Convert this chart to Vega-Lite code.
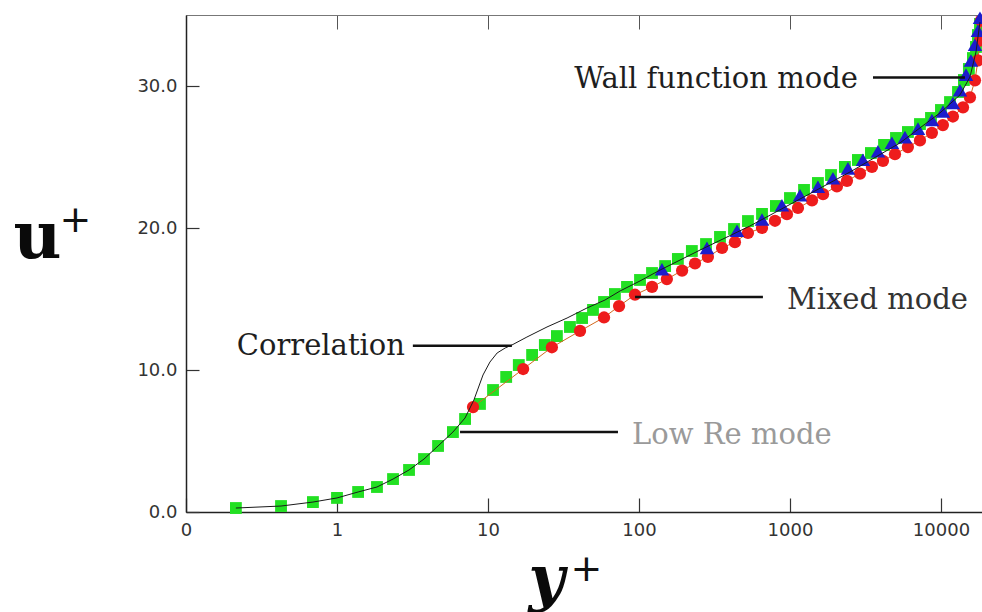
{
  "$schema": "https://vega.github.io/schema/vega-lite/v6.json",
  "width": 796,
  "height": 497,
  "autosize": {"type": "none"},
  "padding": {"left": 186, "top": 15, "right": 0, "bottom": 100},
  "background": "white",
  "config": {"view": {"stroke": null}, "axis": {"grid": false}},
  "datasets": {
    "pts": [
      {"s": "Low Re mode", "yp": 0.214, "up": 0.28},
      {"s": "Low Re mode", "yp": 0.426, "up": 0.42},
      {"s": "Low Re mode", "yp": 0.693, "up": 0.70},
      {"s": "Low Re mode", "yp": 1.0, "up": 0.99},
      {"s": "Low Re mode", "yp": 1.38, "up": 1.41},
      {"s": "Low Re mode", "yp": 1.84, "up": 1.76},
      {"s": "Low Re mode", "yp": 2.35, "up": 2.32},
      {"s": "Low Re mode", "yp": 3.0, "up": 2.96},
      {"s": "Low Re mode", "yp": 3.77, "up": 3.73},
      {"s": "Low Re mode", "yp": 4.67, "up": 4.65},
      {"s": "Low Re mode", "yp": 5.86, "up": 5.63},
      {"s": "Low Re mode", "yp": 7.05, "up": 6.55},
      {"s": "Low Re mode", "yp": 8.85, "up": 7.61},
      {"s": "Low Re mode", "yp": 10.8, "up": 8.59},
      {"s": "Low Re mode", "yp": 13.2, "up": 9.51},
      {"s": "Low Re mode", "yp": 16.0, "up": 10.35},
      {"s": "Low Re mode", "yp": 19.6, "up": 11.06},
      {"s": "Low Re mode", "yp": 23.8, "up": 11.76},
      {"s": "Low Re mode", "yp": 28.6, "up": 12.39},
      {"s": "Low Re mode", "yp": 34.9, "up": 13.03},
      {"s": "Low Re mode", "yp": 42.0, "up": 13.66},
      {"s": "Low Re mode", "yp": 49.6, "up": 14.23},
      {"s": "Low Re mode", "yp": 58.7, "up": 14.79},
      {"s": "Low Re mode", "yp": 69.3, "up": 15.35},
      {"s": "Low Re mode", "yp": 83.3, "up": 15.85},
      {"s": "Low Re mode", "yp": 101.6, "up": 16.34},
      {"s": "Low Re mode", "yp": 122, "up": 16.83},
      {"s": "Low Re mode", "yp": 149, "up": 17.32},
      {"s": "Low Re mode", "yp": 181, "up": 17.82},
      {"s": "Low Re mode", "yp": 224, "up": 18.38},
      {"s": "Low Re mode", "yp": 278, "up": 18.87},
      {"s": "Low Re mode", "yp": 344, "up": 19.37},
      {"s": "Low Re mode", "yp": 426, "up": 19.93},
      {"s": "Low Re mode", "yp": 527, "up": 20.49},
      {"s": "Low Re mode", "yp": 653, "up": 20.99},
      {"s": "Low Re mode", "yp": 807, "up": 21.55},
      {"s": "Low Re mode", "yp": 1000, "up": 22.11},
      {"s": "Low Re mode", "yp": 1239, "up": 22.68},
      {"s": "Low Re mode", "yp": 1532, "up": 23.17},
      {"s": "Low Re mode", "yp": 1870, "up": 23.73},
      {"s": "Low Re mode", "yp": 2312, "up": 24.30},
      {"s": "Low Re mode", "yp": 2818, "up": 24.79},
      {"s": "Low Re mode", "yp": 3436, "up": 25.28},
      {"s": "Low Re mode", "yp": 4198, "up": 25.85},
      {"s": "Low Re mode", "yp": 5036, "up": 26.34},
      {"s": "Low Re mode", "yp": 6040, "up": 26.76},
      {"s": "Low Re mode", "yp": 7261, "up": 27.32},
      {"s": "Low Re mode", "yp": 8590, "up": 27.75},
      {"s": "Low Re mode", "yp": 10000, "up": 28.31},
      {"s": "Low Re mode", "yp": 11480, "up": 28.87},
      {"s": "Low Re mode", "yp": 12970, "up": 29.58},
      {"s": "Low Re mode", "yp": 14190, "up": 30.42},
      {"s": "Low Re mode", "yp": 15310, "up": 31.20},
      {"s": "Low Re mode", "yp": 16280, "up": 31.97},
      {"s": "Low Re mode", "yp": 17060, "up": 32.75},
      {"s": "Low Re mode", "yp": 17580, "up": 33.59},
      {"s": "Low Re mode", "yp": 18130, "up": 34.37},
      {"s": "Mixed mode", "yp": 7.96, "up": 7.39},
      {"s": "Mixed mode", "yp": 17.1, "up": 10.07},
      {"s": "Mixed mode", "yp": 26.5, "up": 11.6},
      {"s": "Mixed mode", "yp": 40.7, "up": 12.75},
      {"s": "Mixed mode", "yp": 58.7, "up": 13.7},
      {"s": "Mixed mode", "yp": 73.8, "up": 14.5},
      {"s": "Mixed mode", "yp": 94.1, "up": 15.3},
      {"s": "Mixed mode", "yp": 122, "up": 15.85},
      {"s": "Mixed mode", "yp": 153, "up": 16.4},
      {"s": "Mixed mode", "yp": 193, "up": 17.0},
      {"s": "Mixed mode", "yp": 235, "up": 17.5},
      {"s": "Mixed mode", "yp": 286, "up": 17.96},
      {"s": "Mixed mode", "yp": 355, "up": 18.6},
      {"s": "Mixed mode", "yp": 432, "up": 19.0},
      {"s": "Mixed mode", "yp": 527, "up": 19.65},
      {"s": "Mixed mode", "yp": 653, "up": 20.0},
      {"s": "Mixed mode", "yp": 796, "up": 20.51},
      {"s": "Mixed mode", "yp": 955, "up": 20.97},
      {"s": "Mixed mode", "yp": 1130, "up": 21.41},
      {"s": "Mixed mode", "yp": 1400, "up": 21.95},
      {"s": "Mixed mode", "yp": 1656, "up": 22.38},
      {"s": "Mixed mode", "yp": 2046, "up": 22.93},
      {"s": "Mixed mode", "yp": 2385, "up": 23.32},
      {"s": "Mixed mode", "yp": 2910, "up": 23.83},
      {"s": "Mixed mode", "yp": 3490, "up": 24.3},
      {"s": "Mixed mode", "yp": 4130, "up": 24.73},
      {"s": "Mixed mode", "yp": 4960, "up": 25.2},
      {"s": "Mixed mode", "yp": 6040, "up": 25.7},
      {"s": "Mixed mode", "yp": 7260, "up": 26.17},
      {"s": "Mixed mode", "yp": 8710, "up": 26.7},
      {"s": "Mixed mode", "yp": 10300, "up": 27.25},
      {"s": "Mixed mode", "yp": 12000, "up": 27.85},
      {"s": "Mixed mode", "yp": 14000, "up": 28.5},
      {"s": "Mixed mode", "yp": 15560, "up": 29.2},
      {"s": "Mixed mode", "yp": 16800, "up": 30.4},
      {"s": "Mixed mode", "yp": 17580, "up": 31.8},
      {"s": "Mixed mode", "yp": 18130, "up": 33.2},
      {"s": "Mixed mode", "yp": 18400, "up": 34.6},
      {"s": "Wall function mode", "yp": 142, "up": 17.1},
      {"s": "Wall function mode", "yp": 282, "up": 18.6},
      {"s": "Wall function mode", "yp": 446, "up": 19.8},
      {"s": "Wall function mode", "yp": 653, "up": 20.6},
      {"s": "Wall function mode", "yp": 885, "up": 21.6},
      {"s": "Wall function mode", "yp": 1165, "up": 22.3},
      {"s": "Wall function mode", "yp": 1532, "up": 22.9},
      {"s": "Wall function mode", "yp": 1926, "up": 23.5},
      {"s": "Wall function mode", "yp": 2421, "up": 24.2},
      {"s": "Wall function mode", "yp": 3043, "up": 24.8},
      {"s": "Wall function mode", "yp": 3826, "up": 25.4},
      {"s": "Wall function mode", "yp": 4736, "up": 26.0},
      {"s": "Wall function mode", "yp": 5776, "up": 26.4},
      {"s": "Wall function mode", "yp": 7047, "up": 27.0},
      {"s": "Wall function mode", "yp": 8713, "up": 27.6},
      {"s": "Wall function mode", "yp": 10310, "up": 28.2},
      {"s": "Wall function mode", "yp": 12000, "up": 28.8},
      {"s": "Wall function mode", "yp": 13360, "up": 29.7},
      {"s": "Wall function mode", "yp": 14650, "up": 30.8},
      {"s": "Wall function mode", "yp": 15800, "up": 31.8},
      {"s": "Wall function mode", "yp": 16800, "up": 32.9},
      {"s": "Wall function mode", "yp": 17580, "up": 33.9},
      {"s": "Wall function mode", "yp": 18130, "up": 34.8}
    ],
    "corr": [
      {"yp": 0.214, "up": 0.28},
      {"yp": 0.426, "up": 0.42},
      {"yp": 0.693, "up": 0.70},
      {"yp": 1.0, "up": 0.99},
      {"yp": 1.38, "up": 1.41},
      {"yp": 1.84, "up": 1.76},
      {"yp": 2.35, "up": 2.32},
      {"yp": 3.0, "up": 2.96},
      {"yp": 3.77, "up": 3.73},
      {"yp": 4.67, "up": 4.65},
      {"yp": 5.86, "up": 5.63},
      {"yp": 7.05, "up": 6.62},
      {"yp": 8.07, "up": 7.89},
      {"yp": 9.27, "up": 9.65},
      {"yp": 10.3, "up": 10.56},
      {"yp": 11.5, "up": 11.2},
      {"yp": 13.0, "up": 11.55},
      {"yp": 14.4, "up": 11.76},
      {"yp": 18.1, "up": 12.32},
      {"yp": 24.6, "up": 13.03},
      {"yp": 33.4, "up": 13.66},
      {"yp": 45.3, "up": 14.37},
      {"yp": 59.6, "up": 14.93},
      {"yp": 74.8, "up": 15.56},
      {"yp": 101.6, "up": 16.27},
      {"yp": 138, "up": 17.04},
      {"yp": 254, "up": 18.45},
      {"yp": 543, "up": 20.14},
      {"yp": 1165, "up": 22.04},
      {"yp": 2495, "up": 23.94},
      {"yp": 5350, "up": 25.99},
      {"yp": 9840, "up": 28.1},
      {"yp": 13360, "up": 29.37},
      {"yp": 15560, "up": 30.63},
      {"yp": 17060, "up": 32.39},
      {"yp": 18130, "up": 34.5}
    ],
    "leaders": [
      {"label": "Correlation", "yp": 3.18, "yp2": 14.4, "up": 11.7},
      {"label": "Low Re mode", "yp": 6.53, "yp2": 72.6, "up": 5.63},
      {"label": "Mixed mode", "yp": 94.2, "yp2": 662, "up": 15.14},
      {"label": "Wall function mode", "yp": 3548, "yp2": 14420, "up": 30.6}
    ],
    "labels": [
      {"label": "Correlation", "yp": 2.82, "up": 11.7},
      {"label": "Wall function mode", "yp": 2818, "up": 30.5},
      {"label": "Mixed mode", "yp": 955, "up": 14.95},
      {"label": "Low Re mode", "yp": 89.9, "up": 5.4}
    ]
  },
  "resolve": {"axis": {"x": "independent", "y": "independent"}},
  "layer": [
    {
      "data": {"name": "pts"},
      "transform": [{"filter": "datum.s === 'Low Re mode'"}],
      "mark": {"type": "point", "shape": "square", "filled": true, "size": 140, "color": "#22e022", "opacity": 1},
      "encoding": {
        "x": {"field": "yp", "type": "quantitative",
          "scale": {"type": "log", "domain": [0.1, 18700], "nice": false},
          "axis": {"orient": "bottom", "values": [0.1, 1, 10, 100, 1000, 10000],
            "labelExpr": "datum.value < 0.5 ? '0' : format(datum.value, 'd')",
            "labelFont": "DejaVu Sans", "labelFontSize": 18, "labelColor": "#333",
            "labelPadding": 23, "labelFlush": false, "labelOverlap": false,
            "tickSize": -14, "tickColor": "#333", "tickWidth": 1.2,
            "domainColor": "#222", "domainWidth": 1.5,
            "title": "y", "titleFont": "DejaVu Serif", "titleFontSize": 62,
            "titleFontWeight": "bold", "titleFontStyle": "italic", "titleColor": "#0a0a0a",
            "titleX": 360, "titleY": 86, "titleBaseline": "alphabetic", "titleAlign": "center"}},
        "y": {"field": "up", "type": "quantitative",
          "scale": {"domain": [0, 35], "nice": false},
          "axis": {"orient": "left", "values": [0, 10, 20, 30], "format": ".1f",
            "labelFont": "DejaVu Sans", "labelFontSize": 18, "labelColor": "#333",
            "labelPadding": 22,
            "tickSize": -13, "tickColor": "#333", "tickWidth": 1.2,
            "domainColor": "#222", "domainWidth": 1.5,
            "title": "u", "titleFont": "DejaVu Serif", "titleFontSize": 66,
            "titleFontWeight": "bold", "titleAngle": 0, "titleColor": "#0a0a0a",
            "titleX": -149, "titleY": 242, "titleBaseline": "alphabetic", "titleAlign": "center"}}
      }
    },
    {
      "data": {"name": "pts"},
      "transform": [{"filter": "datum.s === 'Mixed mode'"}],
      "mark": {"type": "line", "color": "#d2691e", "strokeWidth": 1},
      "encoding": {
        "x": {"field": "yp", "type": "quantitative", "scale": {"type": "log", "domain": [0.1, 18700], "nice": false}, "axis": null},
        "y": {"field": "up", "type": "quantitative", "scale": {"domain": [0, 35], "nice": false}, "axis": null}
      }
    },
    {
      "data": {"name": "pts"},
      "transform": [{"filter": "datum.s === 'Mixed mode'"}],
      "mark": {"type": "point", "shape": "circle", "filled": true, "size": 150, "color": "#ee1c1c", "opacity": 1},
      "encoding": {
        "x": {"field": "yp", "type": "quantitative",
          "scale": {"type": "log", "domain": [0.1, 18700], "nice": false},
          "axis": {"orient": "top", "values": [0.1, 1, 10, 100, 1000, 10000], "labels": false,
            "tickSize": -14, "tickColor": "#555", "tickWidth": 1,
            "domainColor": "#777", "domainWidth": 1,
            "title": "+", "titleFont": "DejaVu Sans", "titleFontSize": 38, "titleFontWeight": "normal",
            "titleColor": "#111", "titleX": 400, "titleY": 554, "titleBaseline": "middle", "titleAlign": "center"}},
        "y": {"field": "up", "type": "quantitative",
          "scale": {"domain": [0, 35], "nice": false},
          "axis": {"orient": "right", "domain": false, "ticks": false, "labels": false,
            "title": "+", "titleFont": "DejaVu Sans", "titleFontSize": 38, "titleFontWeight": "normal",
            "titleAngle": 0, "titleColor": "#111", "titleX": -907, "titleY": 205,
            "titleBaseline": "middle", "titleAlign": "center"}}
      }
    },
    {
      "data": {"name": "pts"},
      "transform": [{"filter": "datum.s === 'Wall function mode'"}],
      "mark": {"type": "point", "shape": "triangle-up", "filled": true, "size": 210, "color": "#1c1ccc", "opacity": 1},
      "encoding": {
        "x": {"field": "yp", "type": "quantitative", "scale": {"type": "log", "domain": [0.1, 18700], "nice": false}, "axis": null},
        "y": {"field": "up", "type": "quantitative", "scale": {"domain": [0, 35], "nice": false}, "axis": null}
      }
    },
    {
      "data": {"name": "corr"},
      "mark": {"type": "line", "color": "#1a1a1a", "strokeWidth": 1},
      "encoding": {
        "x": {"field": "yp", "type": "quantitative", "scale": {"type": "log", "domain": [0.1, 18700], "nice": false}, "axis": null},
        "y": {"field": "up", "type": "quantitative", "scale": {"domain": [0, 35], "nice": false}, "axis": null}
      }
    },
    {
      "data": {"name": "leaders"},
      "mark": {"type": "rule", "color": "#111", "strokeWidth": 2.5},
      "encoding": {
        "x": {"field": "yp", "type": "quantitative", "scale": {"type": "log", "domain": [0.1, 18700], "nice": false}, "axis": null},
        "x2": {"field": "yp2"},
        "y": {"field": "up", "type": "quantitative", "scale": {"domain": [0, 35], "nice": false}, "axis": null}
      }
    },
    {
      "data": {"name": "labels"},
      "transform": [{"filter": "datum.label === 'Correlation' || datum.label === 'Wall function mode'"}],
      "mark": {"type": "text", "align": "right", "baseline": "middle", "font": "DejaVu Serif", "fontSize": 29},
      "encoding": {
        "x": {"field": "yp", "type": "quantitative", "scale": {"type": "log", "domain": [0.1, 18700], "nice": false}, "axis": null},
        "y": {"field": "up", "type": "quantitative", "scale": {"domain": [0, 35], "nice": false}, "axis": null},
        "text": {"field": "label"},
        "color": {"field": "label", "type": "nominal", "legend": null,
          "scale": {"domain": ["Correlation", "Wall function mode", "Mixed mode", "Low Re mode"], "range": ["#1e1e1e", "#1e1e1e", "#333333", "#9a9a9a"]}}
      }
    },
    {
      "data": {"name": "labels"},
      "transform": [{"filter": "datum.label === 'Mixed mode' || datum.label === 'Low Re mode'"}],
      "mark": {"type": "text", "align": "left", "baseline": "middle", "font": "DejaVu Serif", "fontSize": 29},
      "encoding": {
        "x": {"field": "yp", "type": "quantitative", "scale": {"type": "log", "domain": [0.1, 18700], "nice": false}, "axis": null},
        "y": {"field": "up", "type": "quantitative", "scale": {"domain": [0, 35], "nice": false}, "axis": null},
        "text": {"field": "label"},
        "color": {"field": "label", "type": "nominal", "legend": null,
          "scale": {"domain": ["Correlation", "Wall function mode", "Mixed mode", "Low Re mode"], "range": ["#1e1e1e", "#1e1e1e", "#333333", "#9a9a9a"]}}
      }
    }
  ]
}
